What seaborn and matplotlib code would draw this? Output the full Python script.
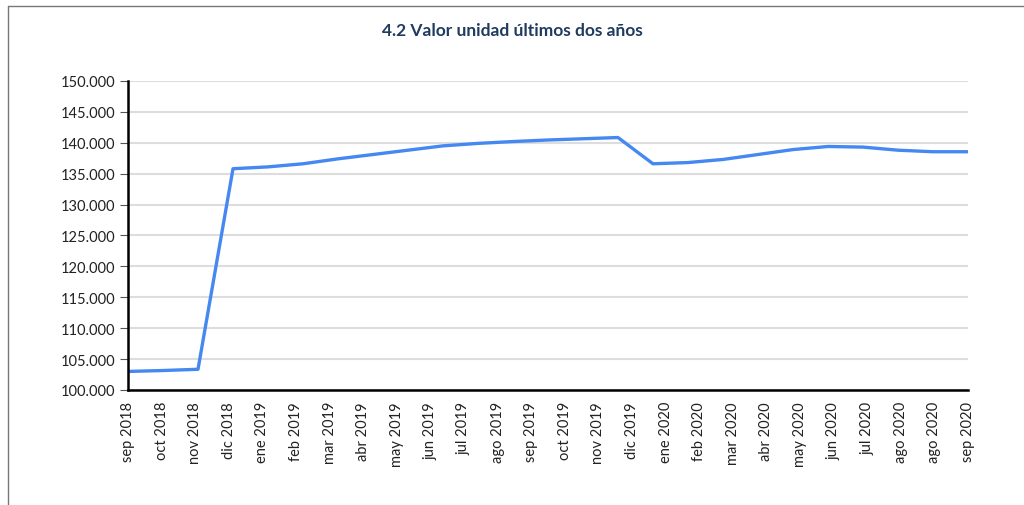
import matplotlib
matplotlib.use("Agg")
import matplotlib.pyplot as plt
from matplotlib.lines import Line2D
from matplotlib.ticker import FuncFormatter
import seaborn as sns
import numpy as np
import pandas as pd

# Monthly unit values (25 points)
valores = [103000, 103150, 103350, 135800, 136100, 136600, 137400, 138100,
           138800, 139500, 139900, 140200, 140450, 140650, 140850, 136600,
           136800, 137300, 138100, 138900, 139400, 139300, 138800, 138550,
           138550]

# Axis labels as they appear on the chart (26 labels)
etiquetas = ["sep 2018", "oct 2018", "nov 2018", "dic 2018", "ene 2019",
             "feb 2019", "mar 2019", "abr 2019", "may 2019", "jun 2019",
             "jul 2019", "ago 2019", "sep 2019", "oct 2019", "nov 2019",
             "dic 2019", "ene 2020", "feb 2020", "mar 2020", "abr 2020",
             "may 2020", "jun 2020", "jul 2020", "ago 2020", "ago 2020",
             "sep 2020"]

titulo = "4.2 Valor unidad últimos dos años"

df = pd.DataFrame({"x": np.arange(len(valores)), "valor": valores})

sns.set_style("white")
plt.rcParams['font.family'] = ['Lato', 'DejaVu Sans']

fig = plt.figure(figsize=(10.24, 5.06), dpi=100)
ax = fig.add_axes([0.125, 0.2273, 0.8203, 0.6107])

sns.lineplot(data=df, x="x", y="valor", ax=ax, color="#4688F1", linewidth=2.4)

ax.set_xlim(0, len(valores) - 1)
ax.set_ylim(100000, 150000)
ax.set_yticks(np.arange(100000, 150001, 5000))
ax.yaxis.set_major_formatter(FuncFormatter(lambda v, p: f"{int(v):,}".replace(",", ".")))
ax.set_xticks(np.linspace(0, len(valores) - 1, len(etiquetas)))
ax.set_xticklabels(etiquetas, rotation=90, fontsize=10.5, color="#222222")
ax.tick_params(axis="y", labelsize=10.5, labelcolor="#222222", length=6,
               width=0.8, color="#555555", left=True, pad=3)
ax.tick_params(axis="x", length=0, pad=8)

ax.grid(axis="y", color="#dddddd", linewidth=1.5)
ax.set_axisbelow(True)
for s in ["top", "right"]:
    ax.spines[s].set_visible(False)
for s in ["left", "bottom"]:
    ax.spines[s].set_color("black")
    ax.spines[s].set_linewidth(1.8)

ax.set_xlabel("")
ax.set_ylabel("")

fig.text(0.5, 0.939, titulo, ha="center", va="center", fontsize=12.5,
         fontweight="bold", color="#1F3B5F")

# Frame lines at top and left
fig.add_artist(Line2D([0.0075, 0.0075], [0.0, 0.986], transform=fig.transFigure,
                      color="#777777", linewidth=1))
fig.add_artist(Line2D([0.0075, 1.0], [0.986, 0.986], transform=fig.transFigure,
                      color="#777777", linewidth=1))

fig.savefig("out.png", dpi=100)
